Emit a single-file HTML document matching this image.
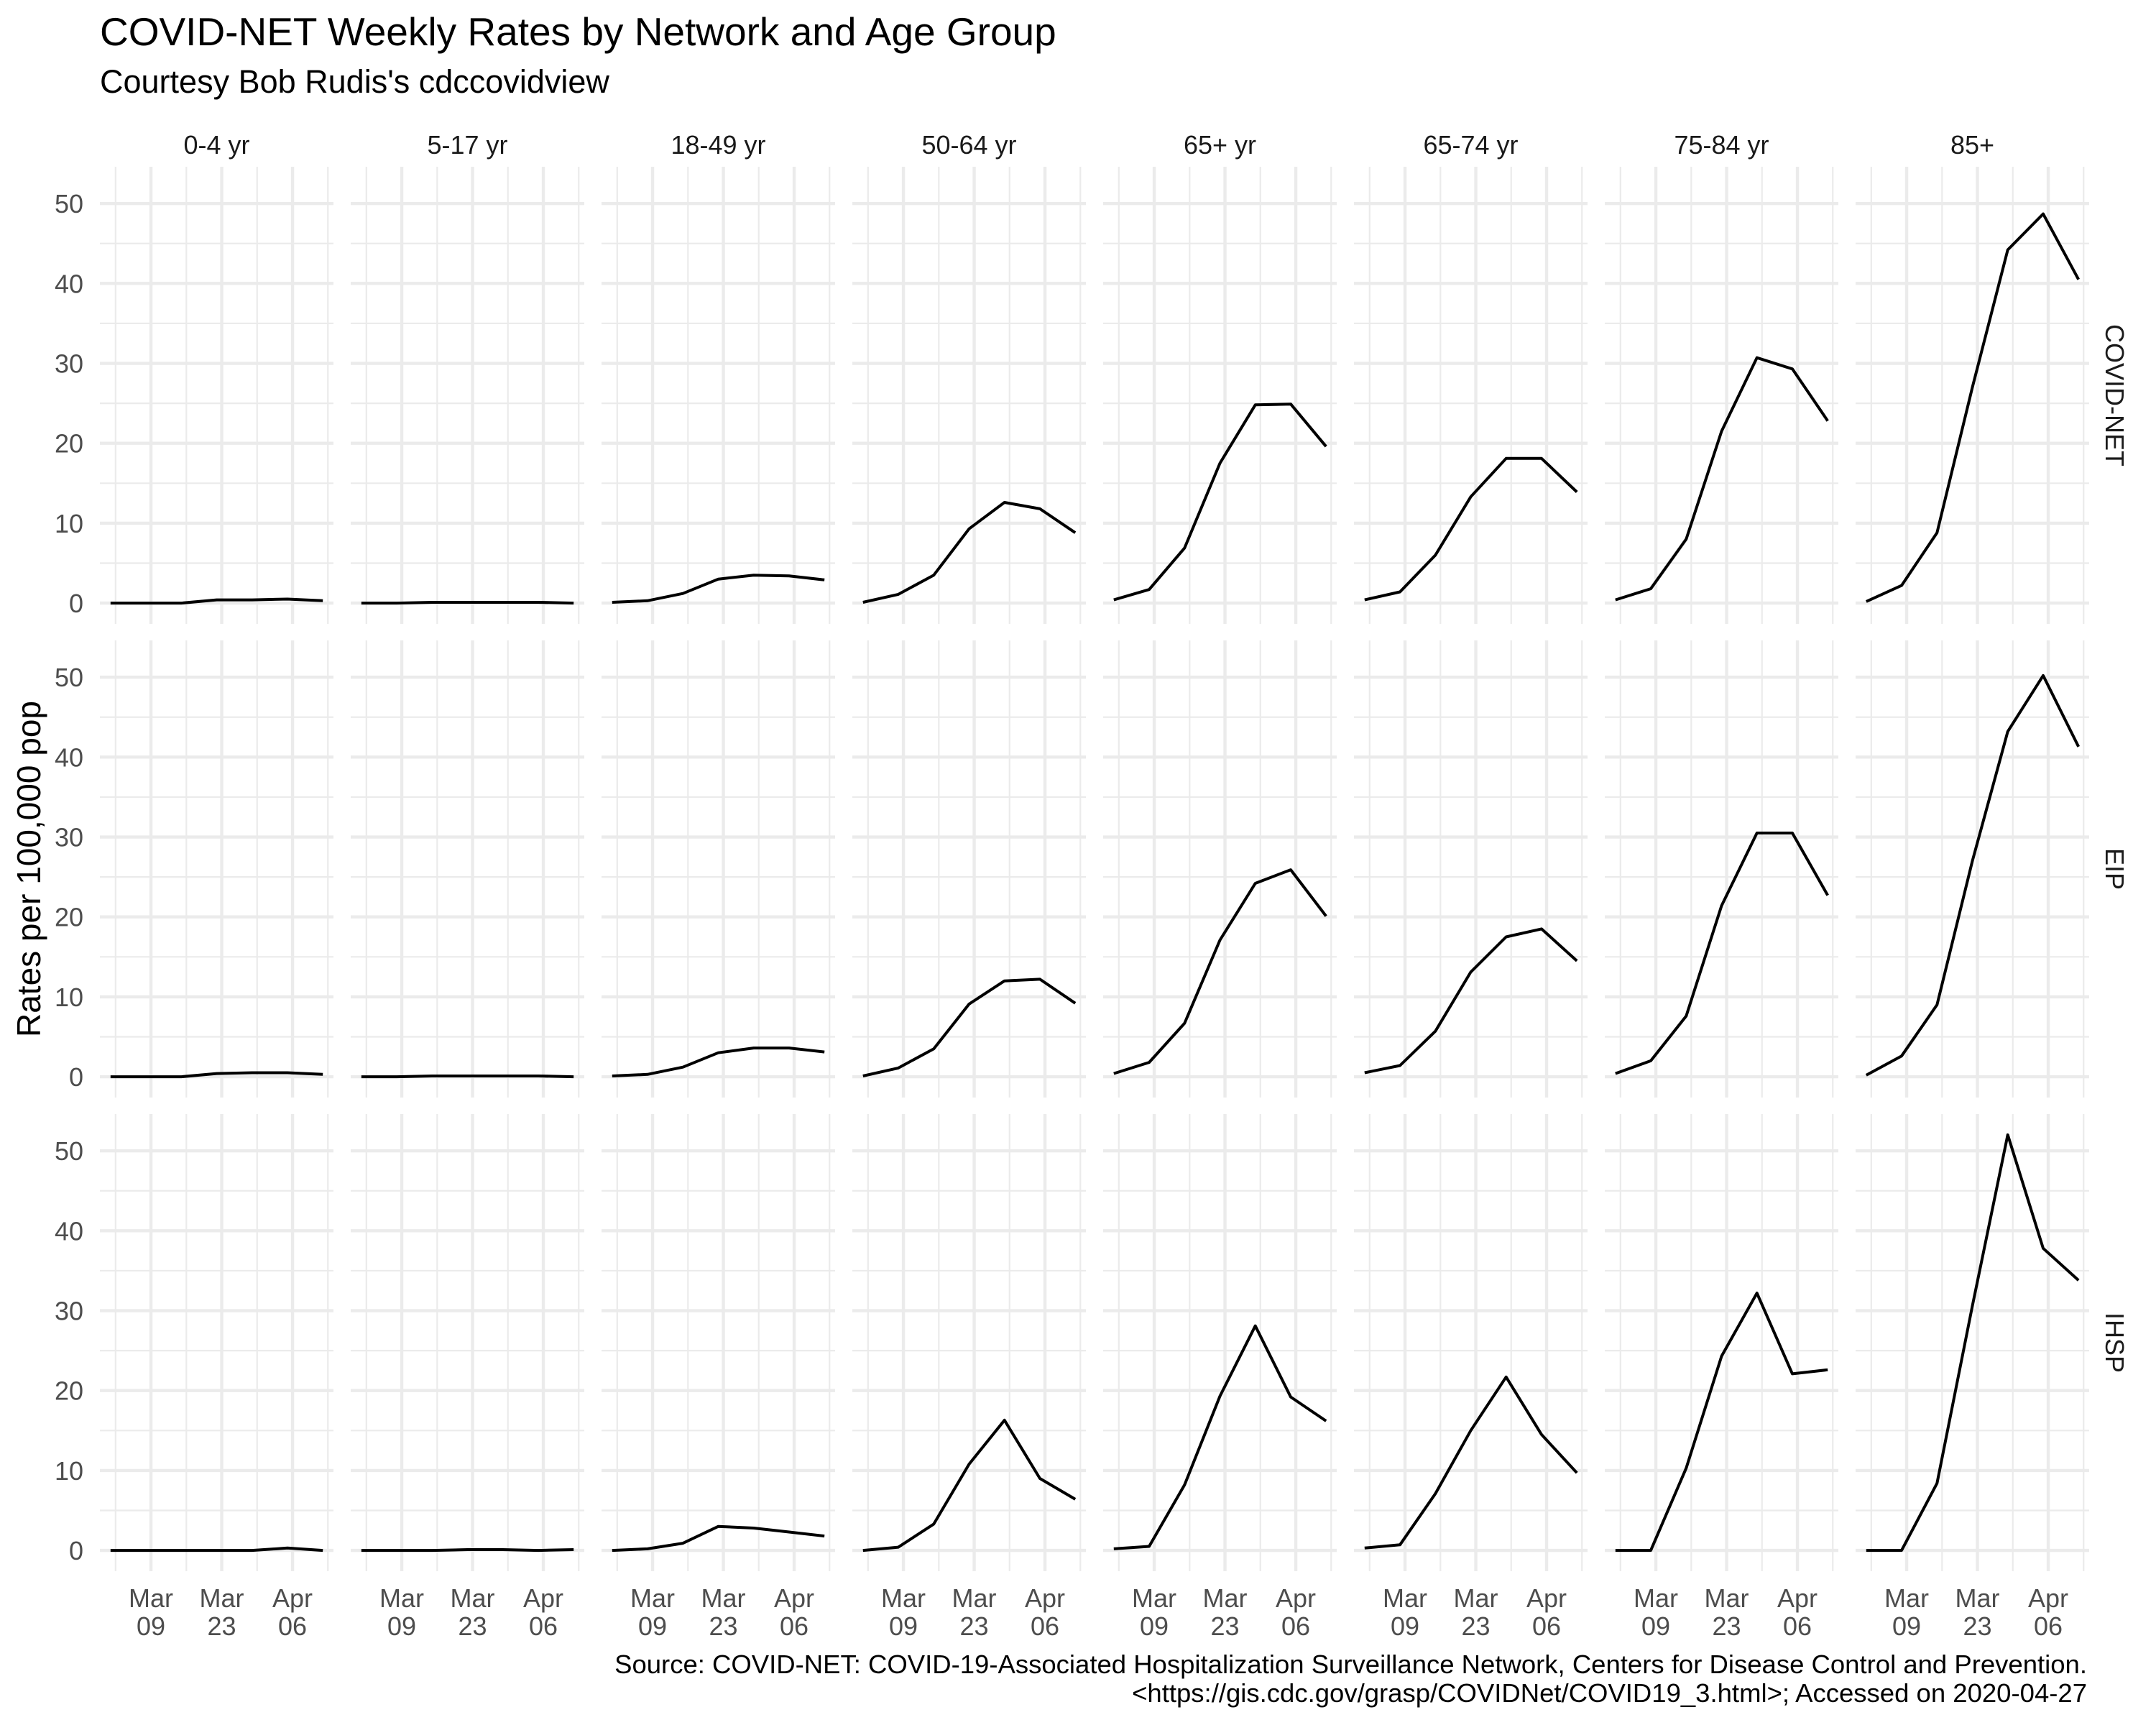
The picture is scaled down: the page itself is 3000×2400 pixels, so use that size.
<!DOCTYPE html>
<html><head><meta charset="utf-8"><style>
html,body{margin:0;padding:0;background:#fff;}
svg{display:block;font-family:"Liberation Sans",Arial,sans-serif;}
</style></head><body>
<svg id="chart" width="3000" height="2400" viewBox="0 0 3000 2400">
<text x="139" y="63" font-size="55" fill="#000">COVID-NET Weekly Rates by Network and Age Group</text>
<text x="139" y="129" font-size="45" fill="#000">Courtesy Bob Rudis's cdccovidview</text>
<text transform="translate(56,1209) rotate(-90)" text-anchor="middle" font-size="46" fill="#000">Rates per 100,000 pop</text>
<text x="2904" y="2328" text-anchor="end" font-size="36.5" fill="#000">Source: COVID-NET: COVID-19-Associated Hospitalization Surveillance Network, Centers for Disease Control and Prevention.</text>
<text x="2904" y="2368" text-anchor="end" font-size="36.5" fill="#000">&lt;https://gis.cdc.gov/grasp/COVIDNet/COVID19_3.html&gt;; Accessed on 2020-04-27</text>
<g id="panels"></g>
</svg>
<script>
const ageGroups = ["0-4 yr","5-17 yr","18-49 yr","50-64 yr","65+ yr","65-74 yr","75-84 yr","85+"];
const networks = ["COVID-NET","EIP","IHSP"];
const weekDays = [0,7,14,21,28,35,42]; // days since Mar 1
const yTicks = [0,10,20,30,40,50];
const yMinor = [5,15,25,35,45];
const xMajorDays = [8,22,36];
const xMajorLabels = [["Mar","09"],["Mar","23"],["Apr","06"]];
const xMinorDays = [1,15,29,43];
const covidNet = [
 [0,0,0,0.4,0.4,0.5,0.3],
 [0,0,0.1,0.1,0.1,0.1,0],
 [0.1,0.3,1.2,3.0,3.5,3.4,2.9],
 [0.1,1.1,3.5,9.3,12.6,11.8,8.8],
 [0.4,1.7,6.9,17.5,24.8,24.9,19.6],
 [0.4,1.4,6.0,13.3,18.1,18.1,13.9],
 [0.4,1.8,8.0,21.5,30.7,29.3,22.8],
 [0.2,2.2,8.8,27.0,44.2,48.7,40.5]];
const eip = [
 [0,0,0,0.4,0.5,0.5,0.3],
 [0,0,0.1,0.1,0.1,0.1,0],
 [0.1,0.3,1.2,3.0,3.6,3.6,3.1],
 [0.1,1.1,3.5,9.1,12.0,12.2,9.2],
 [0.4,1.8,6.7,17.1,24.2,25.9,20.1],
 [0.5,1.4,5.7,13.1,17.5,18.5,14.5],
 [0.4,2.0,7.6,21.4,30.5,30.5,22.7],
 [0.2,2.6,9.0,27.0,43.2,50.2,41.3]];
const ihsp = [
 [0,0,0,0,0,0.3,0],
 [0,0,0,0.1,0.1,0,0.1],
 [0,0.2,0.9,3.0,2.8,2.3,1.8],
 [0,0.4,3.3,10.8,16.3,9.0,6.4],
 [0.2,0.5,8.2,19.3,28.1,19.2,16.2],
 [0.3,0.7,7.1,15.0,21.7,14.5,9.7],
 [0,0,10.3,24.3,32.2,22.1,22.6],
 [0,0,8.4,30.6,52.0,37.8,33.8]];
const seriesByNetwork = [covidNet, eip, ihsp];

const NS = "http://www.w3.org/2000/svg";
const root = document.getElementById("panels");
const PW = 325, PH = 636, PX0 = 139, PXS = 349, PY0 = 232, PYS = 659;
let allVals = [].concat(...seriesByNetwork.map(n => [].concat(...n)));
const yMax = Math.max(...allVals), yMinV = Math.min(...allVals);
const yPad = (yMax - yMinV) * 0.05;
const yLo = yMinV - yPad, yHi = yMax + yPad;
const xLo = weekDays[0] - (weekDays[6]-weekDays[0])*0.05, xHi = weekDays[6] + (weekDays[6]-weekDays[0])*0.05;
function xs(d, c){ return PX0 + c*PXS + (d - xLo)/(xHi - xLo)*PW; }
function ys(v, r){ return PY0 + r*PYS + (yHi - v)/(yHi - yLo)*PH; }
function mk(tag, attrs){ const e = document.createElementNS(NS, tag); for (const k in attrs) e.setAttribute(k, attrs[k]); return e; }

for (let r = 0; r < networks.length; r++) {
  for (let c = 0; c < ageGroups.length; c++) {
    const g = mk("g", {});
    
    
    const L = PX0 + c*PXS, T = PY0 + r*PYS;
    yMinor.forEach(v => {
      const l = mk("line", {x1:L, x2:L+PW, y1:ys(v,r), y2:ys(v,r), stroke:"#ebebeb", "stroke-width":2.2});
      
      
      g.appendChild(l);
    });
    xMinorDays.forEach(d => {
      const l = mk("line", {x1:xs(d,c), x2:xs(d,c), y1:T, y2:T+PH, stroke:"#ebebeb", "stroke-width":2.2});
      
      
      g.appendChild(l);
    });
    yTicks.forEach(v => {
      const l = mk("line", {x1:L, x2:L+PW, y1:ys(v,r), y2:ys(v,r), stroke:"#ebebeb", "stroke-width":4.4});
      
      
      g.appendChild(l);
    });
    xMajorDays.forEach(d => {
      const l = mk("line", {x1:xs(d,c), x2:xs(d,c), y1:T, y2:T+PH, stroke:"#ebebeb", "stroke-width":4.4});
      
      
      g.appendChild(l);
    });
    const vals = seriesByNetwork[r][c];
    const pts = vals.map((v,i) => xs(weekDays[i],c).toFixed(1) + "," + ys(v,r).toFixed(1)).join(" ");
    const pl = mk("polyline", {points:pts, fill:"none", stroke:"#000", "stroke-width":4, "stroke-linejoin":"round"});
    
    
    g.appendChild(pl);
    root.appendChild(g);

    if (c === 0) {
      yTicks.forEach(v => {
        const t = mk("text", {x:116, y:ys(v,r)+13, "text-anchor":"end", "font-size":36, fill:"#4d4d4d"});
        t.textContent = String(v);
        
        
        root.appendChild(t);
      });
    }
    if (r === 0) {
      const t = mk("text", {x:L+PW/2, y:214, "text-anchor":"middle", "font-size":36, fill:"#1a1a1a"});
      t.textContent = ageGroups[c];
      
      
      root.appendChild(t);
    }
    if (r === networks.length - 1) {
      xMajorDays.forEach((d,i) => {
        const t = mk("text", {x:xs(d,c), y:2236, "text-anchor":"middle", "font-size":36, fill:"#4d4d4d"});
        t.textContent = xMajorLabels[i][0];
        
        
        root.appendChild(t);
        const t2 = mk("text", {x:xs(d,c), y:2275, "text-anchor":"middle", "font-size":36, fill:"#4d4d4d"});
        t2.textContent = xMajorLabels[i][1];
        
        
        root.appendChild(t2);
      });
    }
  }
  const s = mk("text", {transform:"translate(2930," + (PY0 + r*PYS + PH/2) + ") rotate(90)", "text-anchor":"middle", "font-size":36, fill:"#1a1a1a"});
  s.textContent = networks[r];
  
  
  root.appendChild(s);
}
</script>
</body></html>
